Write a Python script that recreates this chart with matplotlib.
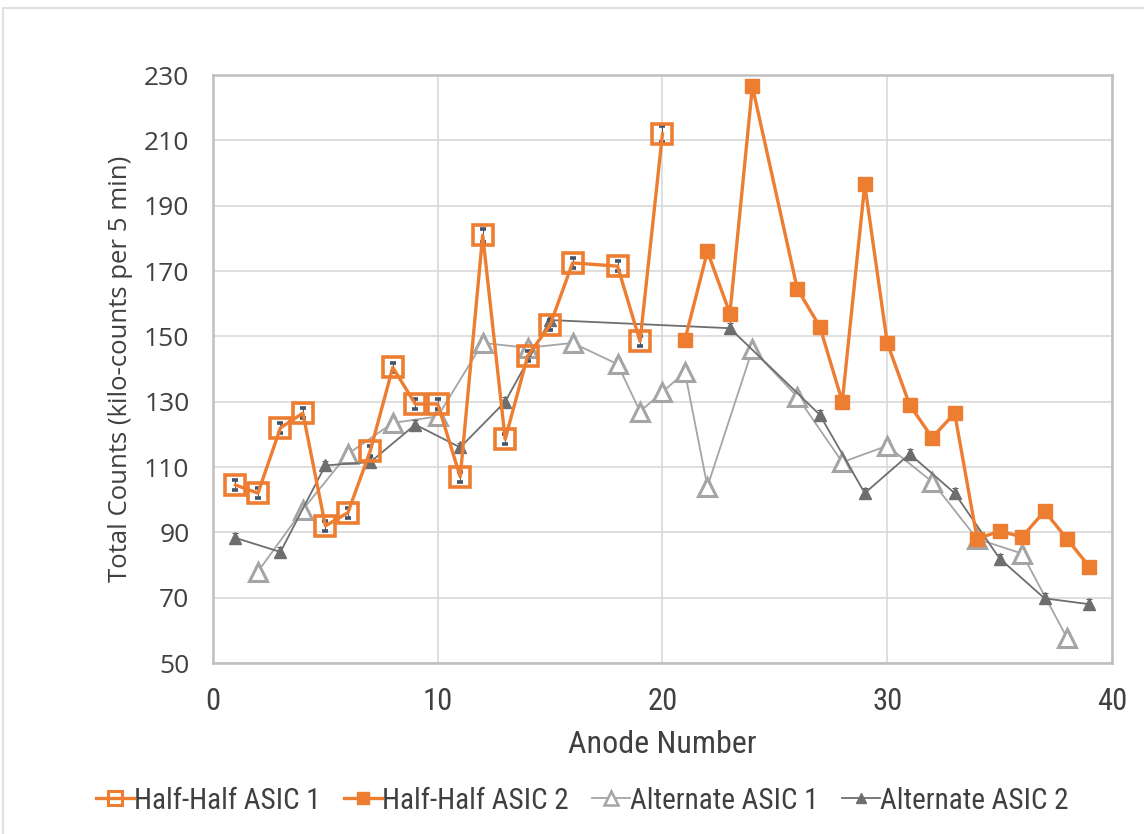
import numpy as np
import matplotlib
matplotlib.use("Agg")
import matplotlib.pyplot as plt
from matplotlib import font_manager
from matplotlib.lines import Line2D

### DATA ###
hh1_x = [1, 2, 3, 4, 5, 6, 7, 8, 9, 10, 11, 12, 13, 14, 15, 16, 18, 19, 20]
hh1_y = [104.5, 102, 122, 126.5, 92, 96, 115, 140.5, 129.3, 129.3, 107, 181, 118.5, 144, 153.5, 172.5, 171.5, 148.5, 212]
hh1_err = [1.5, 1.5, 1.5, 1.5, 1.5, 1.5, 1.5, 1.5, 1.5, 1.5, 1.5, 2, 1.5, 1.5, 1.5, 1.5, 1.5, 1.5, 2.5]

hh2_x = [21, 22, 23, 24, 26, 27, 28, 29, 30, 31, 32, 33, 34, 35, 36, 37, 38, 39]
hh2_y = [149, 176, 157, 226.5, 164.5, 153, 130, 196.5, 148, 129, 119, 126.5, 88, 90.4, 88.6, 96.5, 88, 79.4]
hh2_err = [1.5, 1.5, 1.5, 2, 1.5, 1, 1, 2, 1, 1, 1, 1, 1, 1, 1, 1, 1, 1]

alt1_x = [2, 4, 6, 8, 10, 12, 14, 16, 18, 19, 20, 21, 22, 24, 26, 28, 30, 32, 34, 36, 38]
alt1_y = [78, 97, 114, 123.5, 125.5, 148, 146.5, 148, 141.5, 127, 133, 139, 104, 146, 131.5, 111.5, 116.5, 105.5, 88, 83.5, 57.7]
alt1_err = [1.5] * len(alt1_x)

alt2_x = [1, 3, 5, 7, 9, 11, 13, 15, 23, 27, 29, 31, 33, 35, 37, 39]
alt2_y = [88.3, 84, 110.5, 111.5, 123, 116, 130, 155, 152.5, 126, 102, 114, 102, 82, 69.8, 68]
alt2_err = [1.5] * len(alt2_x)

legend_labels = ["Half-Half ASIC 1", "Half-Half ASIC 2", "Alternate ASIC 1", "Alternate ASIC 2"]

orange = "#ED7D31"
light_gray = "#A5A5A5"
dark_gray = "#6E6E6E"
err_col = "#44546A"
txt_col = "#404040"

installed = {f.name for f in font_manager.fontManager.ttflist}
narrow = "DejaVu Sans"
for cand in ["Liberation Sans Narrow", "Roboto Condensed", "DejaVu Sans Condensed", "Open Sans Condensed"]:
    if cand in installed:
        narrow = cand
        break
plt.rcParams["font.family"] = ["Open Sans", "DejaVu Sans"]

### PLOT ###
fig = plt.figure(figsize=(11.44, 8.34), dpi=100, facecolor="w")
ax = fig.add_axes([0.1862, 0.205, 0.7858, 0.705])

kw_err = dict(ecolor=err_col, elinewidth=0.7, capsize=2.5, capthick=0.7)

ax.errorbar(alt1_x, alt1_y, yerr=alt1_err, color=light_gray, lw=1.3, marker="^", ms=13,
            mfc="white", mec=light_gray, mew=2.2, zorder=3, **kw_err)
ax.errorbar(alt2_x, alt2_y, yerr=alt2_err, color=dark_gray, lw=1.3, marker="^", ms=9,
            mfc=dark_gray, mec=dark_gray, zorder=4, **kw_err)
ax.errorbar(hh1_x, hh1_y, yerr=hh1_err, color=orange, lw=2.4, marker="s", ms=14,
            mfc="none", mec=orange, mew=2.6, zorder=5, **kw_err)
ax.errorbar(hh2_x, hh2_y, yerr=hh2_err, color=orange, lw=2.4, marker="s", ms=10,
            mfc=orange, mec=orange, zorder=6, **kw_err)

ax.set_xlim(0, 40)
ax.set_ylim(50, 230)
ax.set_xticks(np.arange(0, 41, 10))
ax.set_yticks(np.arange(50, 231, 20))
ax.grid(True, color="#d9d9d9", lw=1.2)
ax.set_axisbelow(True)
for s in ax.spines.values():
    s.set_color("#bfbfbf")
    s.set_linewidth(1.8)
ax.tick_params(length=0)
ax.tick_params(axis="y", labelsize=19, labelcolor=txt_col, pad=17)
ax.tick_params(axis="x", labelsize=22, labelcolor=txt_col, pad=17)
for t in ax.get_xticklabels():
    t.set_fontfamily(narrow)

ax.set_ylabel("Total Counts (kilo-counts per 5 min)", fontsize=18.5,
              color=txt_col, labelpad=8)
ax.set_xlabel("Anode Number", fontsize=23, family=narrow, color=txt_col, labelpad=10)

# legend (markers only, no error bars)
handles = [
    Line2D([], [], color=orange, lw=2.4, marker="s", ms=10, mfc="none", mec=orange, mew=2.2),
    Line2D([], [], color=orange, lw=2.4, marker="s", ms=8, mfc=orange, mec=orange),
    Line2D([], [], color=light_gray, lw=1.3, marker="^", ms=10, mfc="white", mec=light_gray, mew=1.8),
    Line2D([], [], color=dark_gray, lw=1.3, marker="^", ms=7, mfc=dark_gray, mec=dark_gray),
]
leg = fig.legend(handles, legend_labels, loc="center",
                 bbox_to_anchor=(0.509, 0.04), ncol=4, frameon=False, handlelength=1.3,
                 handletextpad=0.0, columnspacing=0.8,
                 prop={"family": narrow, "size": 21})
for t in leg.get_texts():
    t.set_color(txt_col)

# outer chart border
fig.patches.append(plt.Rectangle((0.003, -0.01), 1.1, 1.0, transform=fig.transFigure,
                                 fill=False, ec="#e0e0e0", lw=1.5))

fig.savefig("out.png", dpi=100)
